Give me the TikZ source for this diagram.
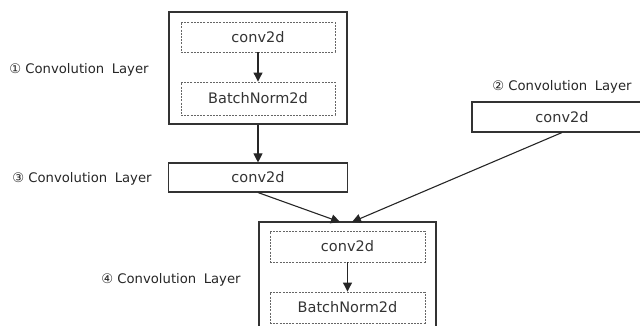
\documentclass[tikz,border=0pt]{standalone}
\usepackage{fontspec}
\setmainfont{DejaVu Sans}
\usetikzlibrary{arrows.meta}
\tikzset{
  outerbox/.style={draw=black!80, line width=1.1pt, rectangle, inner sep=0pt},
  innerbox/.style={draw=black!60, line width=0.9pt, dash pattern=on 2pt off 1.2pt, rectangle, inner sep=0pt, font=\fontsize{14.5}{16}\selectfont, text=black!80},
  solidbox/.style={draw=black!80, line width=1.1pt, rectangle, inner sep=0pt, font=\fontsize{14.5}{16}\selectfont, text=black!80},
  lbl/.style={font=\fontsize{13.2}{15}\selectfont, text=black!85, inner sep=0pt},
  arr/.style={draw=black!85, line width=1.1pt, -{Triangle[width=9pt,length=9pt]}}
}
\begin{document}
\begin{tikzpicture}[x=1pt,y=-1pt]
\useasboundingbox (0,0) rectangle (640,326);
% box 1
\node[outerbox, minimum width=178pt, minimum height=112pt] (o1) at (258,68) {};
\node[innerbox, minimum width=154pt, minimum height=30pt] (c1) at (258,37) {conv2d};
\node[innerbox, minimum width=154pt, minimum height=33pt] (b1) at (258,98.5) {BatchNorm2d};
\node[lbl] (l1) at (79,70) {① Convolution\hspace{0.25em} Layer};
% box 3
\node[solidbox, minimum width=179pt, minimum height=29pt] (c3) at (258,177.5) {conv2d};
\node[lbl] (l3) at (82,179) {③ Convolution\hspace{0.25em} Layer};
% box 2
\node[solidbox, minimum width=180pt, minimum height=30pt] (c2) at (562,117) {conv2d};
\node[lbl] (l2) at (562,87) {② Convolution\hspace{0.25em} Layer};
% box 4
\node[outerbox, minimum width=177pt, minimum height=112pt] (o4) at (347.5,278) {};
\node[innerbox, minimum width=155pt, minimum height=31pt] (c4) at (347.5,246.5) {conv2d};
\node[innerbox, minimum width=155pt, minimum height=31pt] (b4) at (347.5,307.5) {BatchNorm2d};
\node[lbl] (l4) at (171,280) {④ Convolution\hspace{0.25em} Layer};
% connectors
\coordinate (t4a) at (340,222);
\coordinate (t4b) at (352,222);
\draw[arr] (c1) -- (b1);
\draw[arr] (c4) -- (b4);
\draw[arr] (o1.south) -- (c3.north);
\draw[arr] (c3.south) -- (t4a);
\draw[arr] (c2.south) -- (t4b);
\end{tikzpicture}
\end{document}
